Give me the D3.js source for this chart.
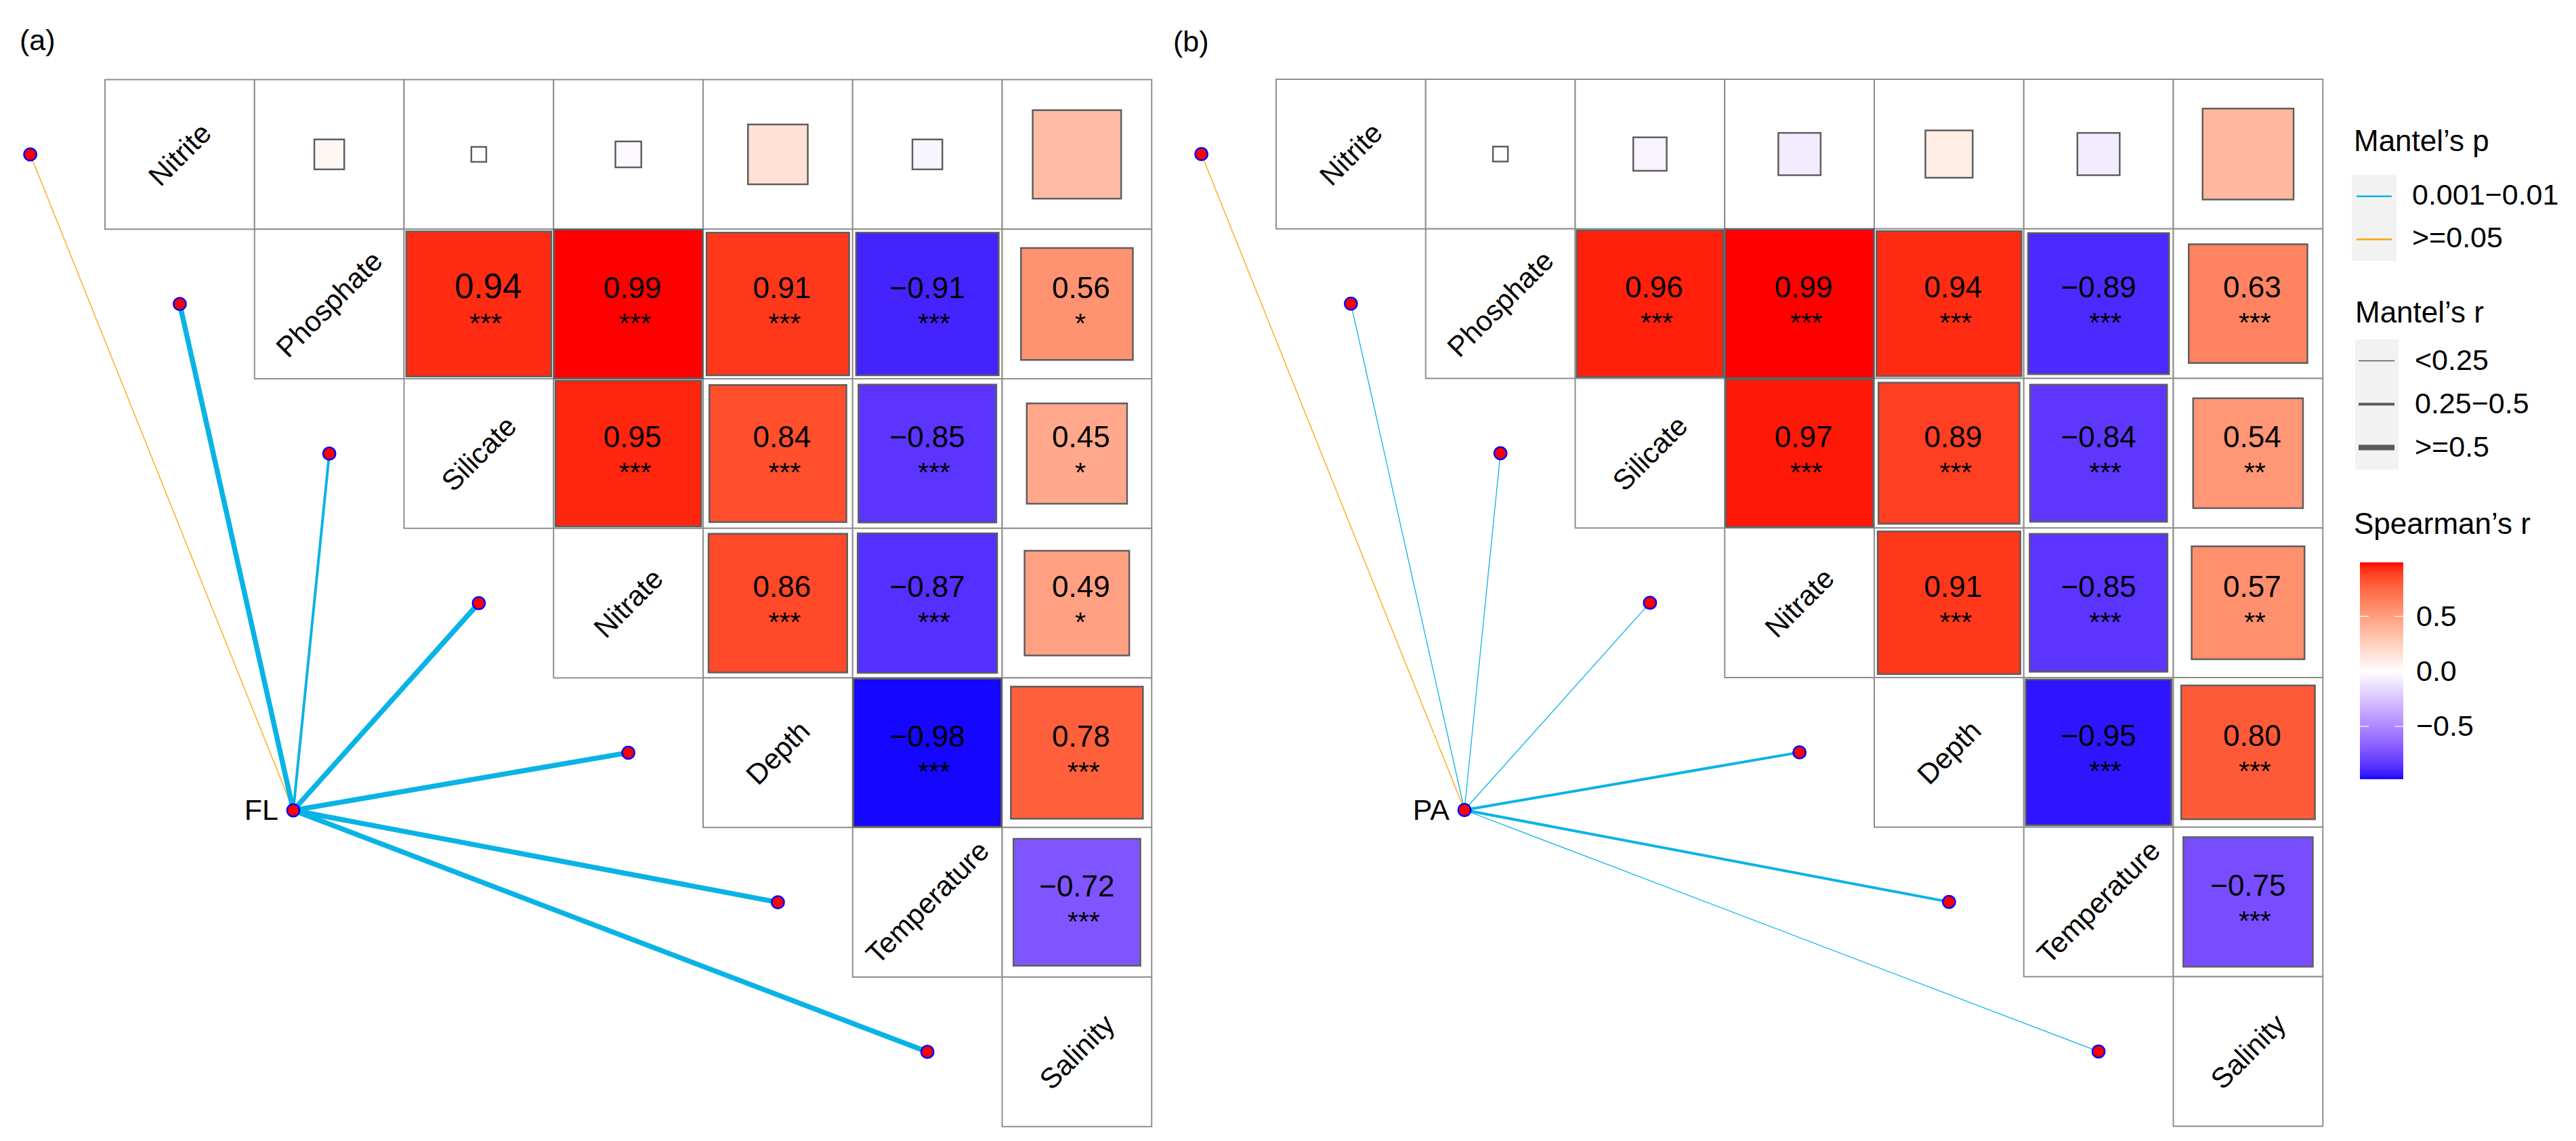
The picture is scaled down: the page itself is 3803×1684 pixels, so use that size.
<!DOCTYPE html>
<html>
<head>
<meta charset="utf-8">
<script src="https://cdn.jsdelivr.net/npm/d3@7"></script>
<style>
  body { margin: 0; background: #ffffff; }
  svg { display: block; }
  text { font-family: "Liberation Sans", Arial, Helvetica, sans-serif; fill: #000; }
</style>
</head>
<body>
<svg id="chart" width="3803" height="1684"></svg>
<script>
// ---------------- DATA ----------------
const variables = ["Nitrite", "Phosphate", "Silicate", "Nitrate", "Depth", "Temperature", "Salinity"];
const panelTags = ["(a)", "(b)"];
const nodeNames = ["FL", "PA"];

// Spearman's r, upper triangle: row i holds variable i against variables i+1 ... 6
const spearmanA = [
  [0.04, 0.01, -0.03, 0.16, -0.04, 0.35],
  [0.94, 0.99, 0.91, -0.91, 0.56],
  [0.95, 0.84, -0.85, 0.45],
  [0.86, -0.87, 0.49],
  [-0.98, 0.78],
  [-0.72]
];
const signifA = [
  ["", "", "", "", "", ""],
  ["***", "***", "***", "***", "*"],
  ["***", "***", "***", "*"],
  ["***", "***", "*"],
  ["***", "***"],
  ["***"]
];
const spearmanB = [
  [0.01, -0.05, -0.08, 0.10, -0.08, 0.37],
  [0.96, 0.99, 0.94, -0.89, 0.63],
  [0.97, 0.89, -0.84, 0.54],
  [0.91, -0.85, 0.57],
  [-0.95, 0.80],
  [-0.75]
];
const signifB = [
  ["", "", "", "", "", ""],
  ["***", "***", "***", "***", "***"],
  ["***", "***", "***", "**"],
  ["***", "***", "**"],
  ["***", "***"],
  ["***"]
];

// Mantel test classes per variable (same order as `variables`)
const mantelPA = [">=0.05", "0.001-0.01", "0.001-0.01", "0.001-0.01", "0.001-0.01", "0.001-0.01", "0.001-0.01"];
const mantelRA = ["<0.25", ">=0.5", "0.25-0.5", ">=0.5", ">=0.5", ">=0.5", ">=0.5"];
const mantelPB = [">=0.05", "0.001-0.01", "0.001-0.01", "0.001-0.01", "0.001-0.01", "0.001-0.01", "0.001-0.01"];
const mantelRB = ["<0.25", "<0.25", "<0.25", "<0.25", "0.25-0.5", "0.25-0.5", "<0.25"];

const pLevels = ["0.001-0.01", ">=0.05"];
const pLabels = ["0.001\u22120.01", ">=0.05"];
const rLevels = ["<0.25", "0.25-0.5", ">=0.5"];
const rLabels = ["<0.25", "0.25\u22120.5", ">=0.5"];
const colorbarTicks = [0.5, 0.0, -0.5];
const colorbarLimits = [-0.98, 0.99];

// ---------------- STYLE / LAYOUT ----------------
const FONT_NUM = 44, FONT_STAR = 41, FONT_DIAG = 42, FONT_LEG = 43, FONT_TITLE = 44;
const CELL = 220.75;
const panels = [
  { tag: panelTags[0], node: nodeNames[0], r: spearmanA, s: signifA, mp: mantelPA, mr: mantelRA,
    gx: 155, gy: 117.5, tagX: 29, tagY: 74 },
  { tag: panelTags[1], node: nodeNames[1], r: spearmanB, s: signifB, mp: mantelPB, mr: mantelRB,
    gx: 1884, gy: 117, tagX: 1732, tagY: 76 }
];

const svg = d3.select("#chart");

const fill = d3.scaleLinear()
  .domain([-0.99, 0, 0.99])
  .range(["#0000FF", "#FFFFFF", "#FF0000"])
  .interpolate(d3.interpolateLab)
  .clamp(true);
const side = d3.scaleSqrt().domain([0, 1]).range([0, CELL]);
const pColor = d3.scaleOrdinal().domain(pLevels).range(["#0AB3E6", "#FFA500"]);
const rWidth = d3.scaleOrdinal().domain(rLevels).range([1.3, 4, 7.5]);
const rLegendWidth = d3.scaleOrdinal().domain(rLevels).range([1.3, 3.8, 8]);

const fmt = v => d3.format(".2f")(v).replace("-", "\u2212");

panels.forEach((P, pi) => {
  const g = svg.append("g");
  const x = d3.scaleBand().domain(variables).range([P.gx, P.gx + CELL * variables.length]);
  const y = d3.scaleBand().domain(variables).range([P.gy, P.gy + CELL * variables.length]);

  // cells (upper triangle incl. diagonal)
  const cells = [];
  variables.forEach((vi, i) => {
    variables.forEach((vj, j) => {
      if (j < i) return;
      cells.push({ i, j, row: vi, col: vj,
        r: j > i ? P.r[i][j - i - 1] : null,
        s: j > i ? P.s[i][j - i - 1] : null });
    });
  });

  g.append("g").selectAll("rect").data(cells).join("rect")
    .attr("x", d => x(d.col)).attr("y", d => y(d.row))
    .attr("width", x.bandwidth()).attr("height", y.bandwidth())
    .attr("fill", "#fff").attr("stroke", "#8f8f8f").attr("stroke-width", 2);

  const off = cells.filter(d => d.r !== null);
  g.append("g").selectAll("rect").data(off).join("rect")
    .attr("x", d => x(d.col) + (CELL - side(Math.abs(d.r))) / 2)
    .attr("y", d => y(d.row) + (CELL - side(Math.abs(d.r))) / 2)
    .attr("width", d => side(Math.abs(d.r)))
    .attr("height", d => side(Math.abs(d.r)))
    .attr("fill", d => fill(d.r))
    .attr("stroke", "#5e5e5e").attr("stroke-width", 2.5);

  const labelled = off.filter(d => d.s !== "");
  const big = d => pi === 0 && d.i === 1 && d.j === 2; // slightly larger label in the reference
  g.append("g").selectAll("text").data(labelled).join("text")
    .attr("x", d => x(d.col) + CELL / 2 + (d.r > 0 ? (big(d) ? 14 : 6) : 0))
    .attr("y", d => y(d.row) + CELL / 2 - 9)
    .attr("text-anchor", "middle")
    .attr("font-size", d => big(d) ? 51 : FONT_NUM)
    .text(d => fmt(d.r));
  g.append("g").selectAll("text").data(labelled).join("text")
    .attr("x", d => x(d.col) + CELL / 2 + (d.s.length === 1 ? 5 : 10))
    .attr("y", d => y(d.row) + CELL / 2 + 42)
    .attr("text-anchor", "middle")
    .attr("font-size", FONT_STAR)
    .text(d => d.s);

  // diagonal labels
  g.append("g").selectAll("text").data(variables).join("text")
    .attr("transform", v => `translate(${x(v) + CELL / 2},${y(v) + CELL / 2}) rotate(-45)`)
    .attr("text-anchor", "middle")
    .attr("dominant-baseline", "central")
    .attr("font-size", FONT_DIAG)
    .text(v => v);

  // Mantel links
  const node = { x: P.gx + 278, y: P.gy + 1078.5 };
  const ends = variables.map((v, i) => ({ v, i,
    x: x(v) - CELL / 2, y: y(v) + CELL / 2, p: P.mp[i], r: P.mr[i] }));
  g.append("g").selectAll("line").data(ends).join("line")
    .attr("x1", node.x).attr("y1", node.y)
    .attr("x2", d => d.x).attr("y2", d => d.y)
    .attr("stroke", d => pColor(d.p))
    .attr("stroke-width", d => rWidth(d.r))
    .attr("stroke-linecap", "round");
  g.append("g").selectAll("circle").data(ends.concat([node])).join("circle")
    .attr("cx", d => d.x).attr("cy", d => d.y).attr("r", 9.2)
    .attr("fill", "#FF0000").attr("stroke", "#0000FF").attr("stroke-width", 2.5);
  g.append("text").attr("x", node.x - 22).attr("y", node.y + 14)
    .attr("text-anchor", "end").attr("font-size", 43).text(P.node);

  // panel tag
  g.append("text").attr("x", P.tagX).attr("y", P.tagY).attr("font-size", 43).text(P.tag);
});

// ---------------- LEGENDS ----------------
const L = svg.append("g");
const LX = 3475;
// Mantel's p
L.append("text").attr("x", LX).attr("y", 223).attr("font-size", FONT_TITLE).text("Mantel\u2019s p");
L.append("rect").attr("x", 3472).attr("y", 258).attr("width", 66).attr("height", 127).attr("fill", "#f2f2f2");
pLevels.forEach((lv, k) => {
  const cy = 289.7 + k * 63.5;
  L.append("line").attr("x1", 3479).attr("x2", 3531).attr("y1", cy).attr("y2", cy)
    .attr("stroke", pColor(lv)).attr("stroke-width", 2.5);
  L.append("text").attr("x", 3561).attr("y", cy + 12).attr("font-size", FONT_LEG).text(pLabels[k]);
});
// Mantel's r
L.append("text").attr("x", LX + 2).attr("y", 476).attr("font-size", FONT_TITLE).text("Mantel\u2019s r");
L.append("rect").attr("x", 3477).attr("y", 501).attr("width", 64).attr("height", 192).attr("fill", "#f2f2f2");
rLevels.forEach((lv, k) => {
  const cy = 532.5 + k * 64;
  L.append("line").attr("x1", 3482).attr("x2", 3535).attr("y1", cy).attr("y2", cy)
    .attr("stroke", "#595959").attr("stroke-width", rLegendWidth(lv));
  L.append("text").attr("x", 3565).attr("y", cy + 13).attr("font-size", FONT_LEG).text(rLabels[k]);
});
// Spearman's r colourbar
L.append("text").attr("x", LX).attr("y", 788).attr("font-size", FONT_TITLE).text("Spearman\u2019s r");
const cbY = d3.scaleLinear().domain(colorbarLimits).range([1150, 830]);
const defs = svg.append("defs");
const grad = defs.append("linearGradient").attr("id", "cb").attr("x1", 0).attr("x2", 0).attr("y1", 1).attr("y2", 0);
d3.range(0, 41).forEach(k => {
  const v = colorbarLimits[0] + (colorbarLimits[1] - colorbarLimits[0]) * k / 40;
  grad.append("stop").attr("offset", k / 40).attr("stop-color", fill(v));
});
L.append("rect").attr("x", 3484).attr("y", 830).attr("width", 64).attr("height", 320).attr("fill", "url(#cb)");
colorbarTicks.forEach(t => {
  const ty = cbY(t);
  L.append("line").attr("x1", 3484).attr("x2", 3497).attr("y1", ty).attr("y2", ty).attr("stroke", "#fff").attr("stroke-width", 1.2);
  L.append("line").attr("x1", 3535).attr("x2", 3548).attr("y1", ty).attr("y2", ty).attr("stroke", "#fff").attr("stroke-width", 1.2);
  L.append("text").attr("x", 3567).attr("y", ty + 14).attr("font-size", FONT_LEG).text(d3.format(".1f")(t).replace("-", "\u2212"));
});
</script>
</body>
</html>
